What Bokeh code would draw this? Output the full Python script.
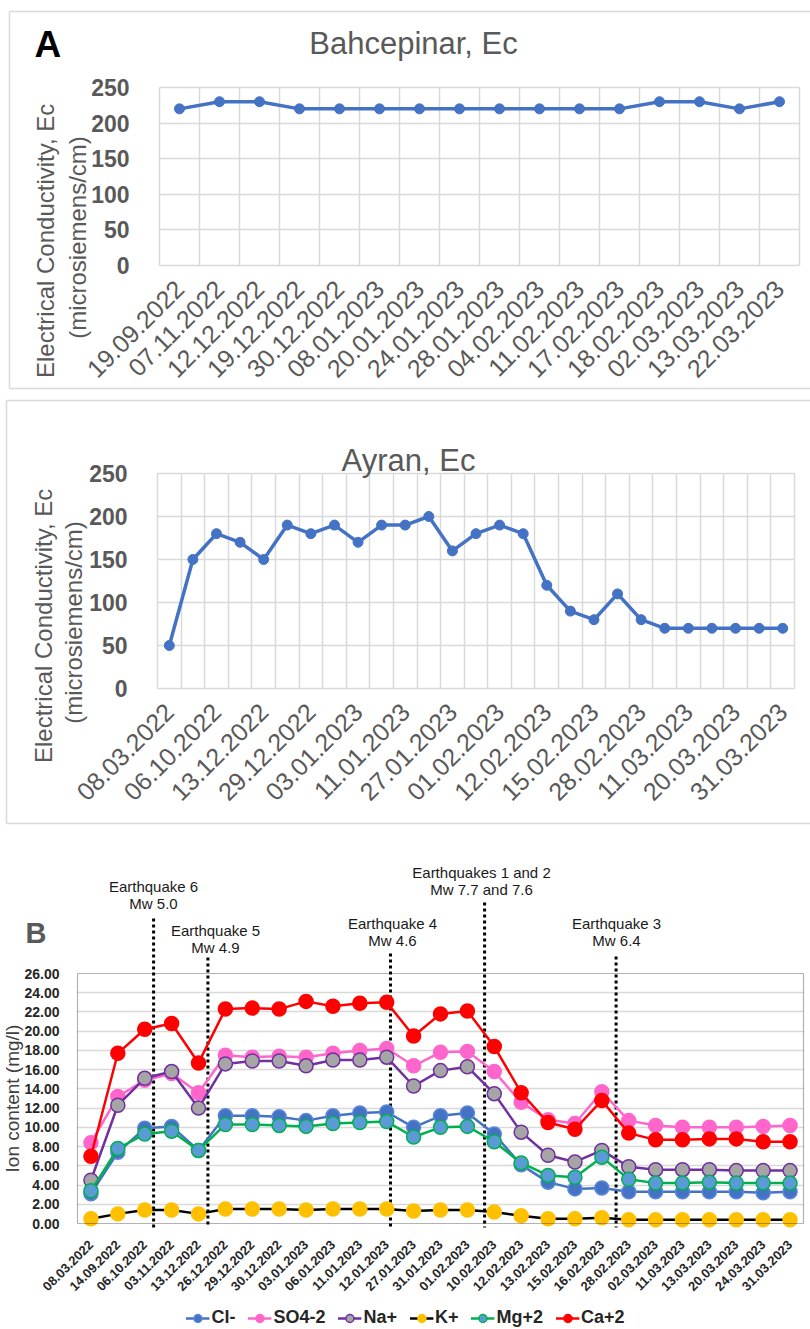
import math
from bokeh.plotting import figure
from bokeh.models import (Label, FixedTicker, Legend, LegendItem, Range1d, BoxAnnotation,
                          NumeralTickFormatter)
from bokeh.layouts import column
from bokeh.embed import file_html
from bokeh.resources import INLINE

# ---------------- data ----------------
bah_dates = ["19.09.2022", "07.11.2022", "12.12.2022", "19.12.2022", "30.12.2022",
             "08.01.2023", "20.01.2023", "24.01.2023", "28.01.2023", "04.02.2023",
             "11.02.2023", "17.02.2023", "18.02.2023", "02.03.2023", "13.03.2023",
             "22.03.2023"]
bah_ec = [220, 230, 230, 220, 220, 220, 220, 220, 220, 220, 220, 220, 230, 230, 220, 230]

ayr_ec = [50, 150, 180, 170, 150, 190, 180, 190, 170, 190, 190, 200, 160, 180,
          190, 180, 120, 90, 80, 110, 80, 70, 70, 70, 70, 70, 70]
# labels shown on every second sample
ayr_tick_labels = ["08.03.2022", "06.10.2022", "13.12.2022", "29.12.2022", "03.01.2023",
                   "11.01.2023", "27.01.2023", "01.02.2023", "12.02.2023", "15.02.2023",
                   "28.02.2023", "11.03.2023", "20.03.2023", "31.03.2023"]

ion_dates = ["08.03.2022", "14.09.2022", "06.10.2022", "03.11.2022", "13.12.2022",
             "26.12.2022", "29.12.2022", "30.12.2022", "03.01.2023", "06.01.2023",
             "11.01.2023", "12.01.2023", "27.01.2023", "31.01.2023", "01.02.2023",
             "10.02.2023", "12.02.2023", "13.02.2023", "15.02.2023", "16.02.2023",
             "28.02.2023", "02.03.2023", "11.03.2023", "13.03.2023", "20.03.2023",
             "24.03.2023", "31.03.2023"]
cl = [3.1, 7.4, 9.9, 10.1, 7.6, 11.2, 11.2, 11.1, 10.7, 11.2, 11.5, 11.6, 10.0, 11.2,
      11.5, 9.3, 6.1, 4.3, 3.6, 3.7, 3.3, 3.3, 3.3, 3.3, 3.3, 3.2, 3.3]
so4 = [8.4, 13.2, 14.9, 15.6, 13.6, 17.5, 17.3, 17.4, 17.3, 17.7, 18.0, 18.2, 16.4, 17.8,
       17.9, 15.8, 12.6, 10.8, 10.4, 13.7, 10.7, 10.2, 10.0, 10.0, 10.0, 10.1, 10.2]
na = [4.5, 12.3, 15.1, 15.8, 12.0, 16.6, 16.9, 16.9, 16.4, 17.0, 17.0, 17.3, 14.3, 15.9,
      16.3, 13.5, 9.5, 7.1, 6.4, 7.6, 5.9, 5.6, 5.6, 5.6, 5.5, 5.5, 5.5]
k = [0.5, 1.0, 1.4, 1.4, 1.0, 1.5, 1.5, 1.5, 1.4, 1.5, 1.5, 1.5, 1.3, 1.4,
     1.4, 1.2, 0.8, 0.5, 0.5, 0.6, 0.4, 0.4, 0.4, 0.4, 0.4, 0.4, 0.4]
mg = [3.4, 7.8, 9.3, 9.6, 7.6, 10.3, 10.3, 10.2, 10.1, 10.4, 10.5, 10.6, 9.0, 10.0,
      10.1, 8.5, 6.3, 5.0, 4.8, 6.9, 4.6, 4.2, 4.2, 4.3, 4.2, 4.2, 4.2]
ca = [7.0, 17.7, 20.2, 20.8, 16.7, 22.3, 22.4, 22.3, 23.1, 22.6, 22.9, 23.0, 19.5, 21.8,
      22.1, 18.4, 13.6, 10.5, 9.8, 12.8, 9.4, 8.7, 8.7, 8.8, 8.8, 8.5, 8.5]

series_names = ["Cl-", "SO4-2", "Na+", "K+", "Mg+2", "Ca+2"]
series_vals = [cl, so4, na, k, mg, ca]

quake_pos = [2.33, 4.35, 11.14, 14.64, 19.53]   # position in sample-index units
quake_lines = [("Earthquake 6", "Mw 5.0"), ("Earthquake 5", "Mw 4.9"),
               ("Earthquake 4", "Mw 4.6"), ("Earthquakes 1 and 2", "Mw 7.7 and 7.6"),
               ("Earthquake 3", "Mw 6.4")]

# ---------------- styles ----------------
FONT = "Liberation Sans"
GRAY = "#595959"
GRID = "#D9D9D9"
BLUE = "#4472C4"
line_cols = ["#4472C4", "#FF66CC", "#7030A0", "#000000", "#00B050", "#FF0000"]
fill_cols = ["#4472C4", "#FF66CC", "#A5A5A5", "#FFC000", "#5B9BD5", "#FF0000"]
edge_cols = ["#5B87D6", "#FF66CC", "#7030A0", "#FFC000", "#00B050", "#FF0000"]
PAGE_W = 810


class Frame:
    """Maps page pixels to data for a figure whose frame fills the whole figure."""
    def __init__(self, top, height, box, data):
        L, R, T, B = box
        x0, x1, y0, y1 = data
        self.L, self.B, self.x0, self.y0 = L, B, x0, y0
        self.kx = (R - L) / (x1 - x0)
        self.ky = (B - T) / (y1 - y0)
        self.xr = Range1d(x0 - L / self.kx, x0 + (PAGE_W - L) / self.kx)
        self.yr = Range1d(y0 - (top + height - B) / self.ky, y0 + (B - top) / self.ky)

    def __call__(self, px, py):
        return self.x0 + (px - self.L) / self.kx, self.y0 + (self.B - py) / self.ky


def base_fig(fr, height):
    p = figure(width=PAGE_W, height=height, x_range=fr.xr, y_range=fr.yr,
               output_backend="svg", toolbar_location=None, min_border=0)
    p.outline_line_color = None
    return p


def style_axes(p, xfix, yfix, xsize, ysize, xcol, ycol, xbold, xstand, ystand):
    p.xaxis.fixed_location = xfix
    p.yaxis.fixed_location = yfix
    for ax in (p.xaxis, p.yaxis):
        ax.major_tick_line_color = None
        ax.minor_tick_line_color = None
        ax.axis_line_color = None
        ax.major_label_text_font = FONT
    p.xaxis.major_label_orientation = math.pi / 4
    p.xaxis.major_label_text_font_size = xsize
    p.xaxis.major_label_text_color = xcol
    p.xaxis.major_label_text_font_style = "bold" if xbold else "normal"
    p.xaxis.major_label_standoff = xstand
    p.yaxis.major_label_text_font_size = ysize
    p.yaxis.major_label_text_font_style = "bold"
    p.yaxis.major_label_text_color = ycol
    p.yaxis.major_label_standoff = ystand


def label(p, fr, px, py, text, size, color=GRAY, bold=False, angle=0.0, align="center",
          baseline="middle"):
    x, y = fr(px, py)
    p.add_layout(Label(x=x, y=y, text=text, text_font=FONT, text_font_size=size,
                       text_color=color, text_font_style="bold" if bold else "normal",
                       angle=angle, text_align=align, text_baseline=baseline))


def ec_panel(vals, tick_idx, tick_labels, title, top, height, box, border,
             title_xy, ytitle_x, ytitle_y, letter=None):
    n = len(vals)
    fr = Frame(top, height, box, (-0.5, n - 0.5, 0, 250))
    p = base_fig(fr, height)
    # panel border (left, top and bottom edges; the right edge runs off the page)
    bl, bt, bb = border
    x_l, y_t = fr(bl, bt)
    x_r, y_b = fr(PAGE_W + 20, bb)
    p.segment(x0=[x_l, x_l, x_l], y0=[y_b, y_t, y_b], x1=[x_l, x_r, x_r], y1=[y_t, y_t, y_b],
              line_color=GRID, line_width=1.5, level="underlay")
    style_axes(p, 0, -0.5, "25px", "23px", GRAY, GRAY, False, 13, 24)
    p.xaxis.ticker = FixedTicker(ticks=tick_idx)
    p.xaxis.major_label_overrides = {i: lab for i, lab in zip(tick_idx, tick_labels)}
    p.yaxis.ticker = FixedTicker(ticks=[0, 50, 100, 150, 200, 250])
    p.xgrid.ticker = FixedTicker(ticks=[i - 0.5 for i in range(n + 1)])
    p.xgrid.cross_bounds = (0, 250)
    p.ygrid.cross_bounds = (-0.5, n - 0.5)
    for g in (p.xgrid, p.ygrid):
        g.grid_line_color = GRID
        g.grid_line_width = 1.5

    xs = list(range(n))
    p.line(xs, vals, line_color=BLUE, line_width=3.5)
    p.scatter(xs, vals, size=10, fill_color=BLUE, line_color=BLUE)

    label(p, fr, title_xy[0], title_xy[1], title, "31px")
    for txt, px in zip(["Electrical Conductivity,  Ec", "(microsiemens/cm)"], ytitle_x):
        label(p, fr, px, ytitle_y, txt, "24px", angle=math.pi / 2)
    if letter:
        label(p, fr, 34, 44, letter, "37px", color="black", bold=True, align="left")
    return p


H1, H2 = 394, 432
H3 = 1328 - H1 - H2
p1 = ec_panel(bah_ec, list(range(len(bah_ec))), bah_dates, "Bahcepinar, Ec",
              0, H1, (159, 799, 87, 265), (9, 11, 388), (413, 43), (45, 77), 237, letter="A")
ayr_idx = list(range(0, len(ayr_ec), 2))
p2 = ec_panel(ayr_ec, ayr_idx, ayr_tick_labels, "Ayran, Ec",
              H1, H2, (157, 794, 473, 688), (6, 400, 823), (408, 460), (43, 73), 622)

# ---------------- panel B ----------------
n3 = len(ion_dates)
fr3 = Frame(H1 + H2, H3, (77, 803, 973, 1223), (-0.5, n3 - 0.5, 0, 26))
p3 = base_fig(fr3, H3)
p3.add_layout(BoxAnnotation(left=-0.5, right=n3 - 0.5, bottom=0, top=26, fill_alpha=0,
                            line_color="black", line_width=1.2))
style_axes(p3, 0, -0.5, "13px", "14px", "#262626", "#262626", True, 13, 12)
p3.xaxis.ticker = FixedTicker(ticks=list(range(n3)))
p3.xaxis.major_label_overrides = {i: lab for i, lab in enumerate(ion_dates)}
p3.yaxis.ticker = FixedTicker(ticks=list(range(0, 27, 2)))
p3.yaxis.formatter = NumeralTickFormatter(format="0.00")
p3.xgrid.grid_line_color = None
p3.ygrid.ticker = FixedTicker(ticks=list(range(2, 26, 2)))
p3.ygrid.cross_bounds = (-0.5, n3 - 0.5)
p3.ygrid.grid_line_color = GRID
p3.ygrid.grid_line_width = 1.5

# earthquake markers (drawn under the series)
_, ybot = fr3(0, 1227)
quake_top_px = [918, 957, 953, 902, 956]
quake_tops = [fr3(0, t)[1] for t in quake_top_px]
p3.segment(x0=quake_pos, y0=quake_tops, x1=quake_pos, y1=[ybot] * len(quake_pos),
           line_color="black", line_width=3, line_dash="3 3")

xs3 = list(range(n3))
items = []
for name, vals, lc, fc, ec in zip(series_names, series_vals, line_cols, fill_cols, edge_cols):
    lr = p3.line(xs3, vals, line_color=lc, line_width=2.5)
    sr = p3.scatter(xs3, vals, size=14, fill_color=fc, line_color=ec, line_width=1.5)
    items.append(LegendItem(label=name, renderers=[lr, sr]))

legend = Legend(items=items, orientation="horizontal", location="bottom_center",
                label_text_font=FONT, label_text_font_size="18px",
                label_text_font_style="bold", label_text_color="#262626",
                glyph_width=24, glyph_height=20, spacing=12, label_standoff=2,
                padding=2, margin=0, border_line_color=None, background_fill_alpha=0)
p3.add_layout(legend)

quake_text_px = [153, 215, 392, 481, 616]
quake_text_py = [886, 930, 923, 872, 923]
for px, py, (l1, l2) in zip(quake_text_px, quake_text_py, quake_lines):
    label(p3, fr3, px, py, l1, "15px", color="#1A1A1A")
    label(p3, fr3, px, py + 17, l2, "15px", color="#1A1A1A")

label(p3, fr3, 25, 932, "B", "29px", bold=True, align="left")
label(p3, fr3, 12, 1098, "Ion content (mg/l)", "19px", color="#404040", angle=math.pi / 2)

layout = column(p1, p2, p3)
open("out.html", "w").write(file_html(layout, INLINE))
